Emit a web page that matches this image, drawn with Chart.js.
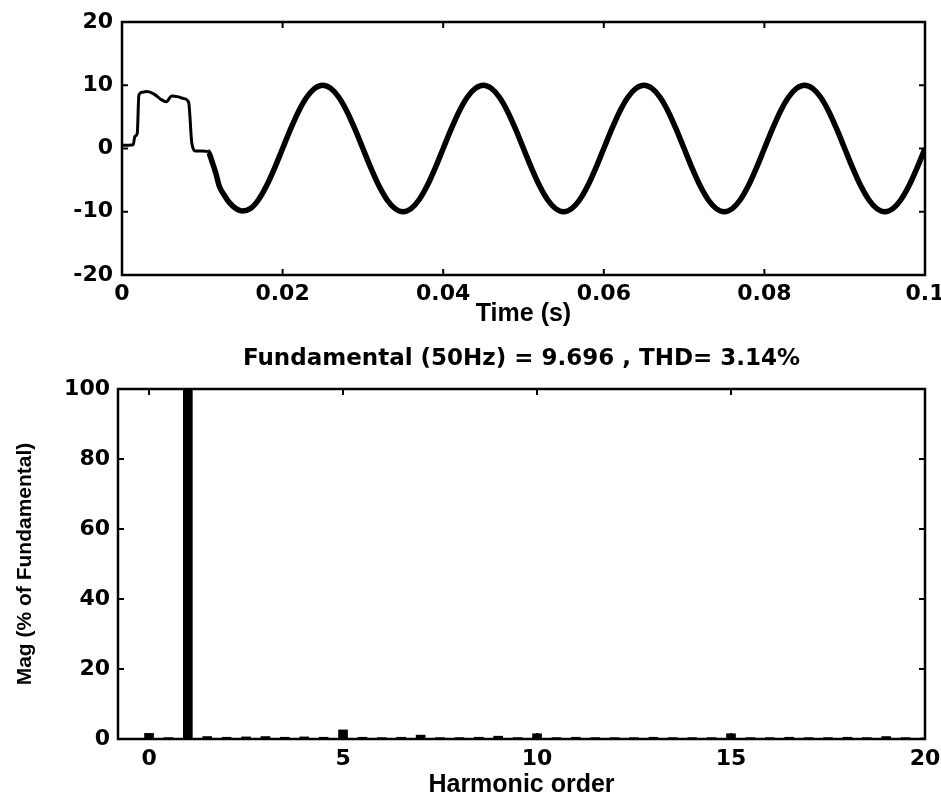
<!DOCTYPE html>
<html><head><meta charset="utf-8">
<script src="https://cdn.jsdelivr.net/npm/chart.js@4.4.1/dist/chart.umd.min.js"></script>
<style>
html,body{margin:0;padding:0;background:#fff;}
#wrap{position:relative;width:941px;height:800px;background:#fff;}
.box{position:absolute;left:0;width:941px;}
</style></head><body>
<div id="wrap">
<div class="box" style="top:0;height:330px"><canvas id="c1" width="941" height="330"></canvas></div>
<div class="box" style="top:330px;height:470px"><canvas id="c2" width="941" height="470"></canvas></div>
</div>
<script>
// ---- Top plot: current waveform ----
const timeS = [0, 0.0014, 0.0016, 0.0019, 0.0021, 0.0025, 0.0031, 0.0040, 0.0048, 0.0055, 0.0062, 0.0069, 0.0077, 0.0083, 0.0087, 0.0092, 0.0100, 0.0107, 0.0113, 0.0117, 0.0121, 0.0128, 0.0134, 0.0142, 0.0150,
 0.016, 0.017, 0.018, 0.019, 0.020, 0.021, 0.022, 0.023, 0.024, 0.025, 0.026, 0.027, 0.028, 0.029, 0.030,
 0.031, 0.032, 0.033, 0.034, 0.035, 0.036, 0.037, 0.038, 0.039, 0.040, 0.041, 0.042, 0.043, 0.044, 0.045,
 0.046, 0.047, 0.048, 0.049, 0.050, 0.051, 0.052, 0.053, 0.054, 0.055, 0.056, 0.057, 0.058, 0.059, 0.060,
 0.061, 0.062, 0.063, 0.064, 0.065, 0.066, 0.067, 0.068, 0.069, 0.070, 0.071, 0.072, 0.073, 0.074, 0.075,
 0.076, 0.077, 0.078, 0.079, 0.080, 0.081, 0.082, 0.083, 0.084, 0.085, 0.086, 0.087, 0.088, 0.089, 0.090,
 0.091, 0.092, 0.093, 0.094, 0.095, 0.096, 0.097, 0.098, 0.099, 0.100];
const currentA = [0.5, 0.6, 1.9, 2.4, 8.4, 8.9, 9.0, 8.6, 7.8, 7.4, 8.3, 8.2, 7.9, 7.3, 0.8, -0.4, -0.4, -0.5, -2.4, -4.0, -5.9, -7.5, -8.6, -9.5, -9.9,
 -9.5, -8.1, -5.9, -3.1, 0.0, 3.1, 5.9, 8.1, 9.5, 10.0, 9.5, 8.1, 5.9, 3.1, 0.0,
 -3.1, -5.9, -8.1, -9.5, -10.0, -9.5, -8.1, -5.9, -3.1, 0.0, 3.1, 5.9, 8.1, 9.5, 10.0,
 9.5, 8.1, 5.9, 3.1, 0.0, -3.1, -5.9, -8.1, -9.5, -10.0, -9.5, -8.1, -5.9, -3.1, 0.0,
 3.1, 5.9, 8.1, 9.5, 10.0, 9.5, 8.1, 5.9, 3.1, 0.0, -3.1, -5.9, -8.1, -9.5, -10.0,
 -9.5, -8.1, -5.9, -3.1, 0.0, 3.1, 5.9, 8.1, 9.5, 10.0, 9.5, 8.1, 5.9, 3.1, 0.0,
 -3.1, -5.9, -8.1, -9.5, -10.0, -9.5, -8.1, -5.9, -3.1, 0.0];
const timeTicks = [0, 0.02, 0.04, 0.06, 0.08, 0.1];
const currentTicks = [-20, -10, 0, 10, 20];
const timeLabel = 'Time (s)';

// ---- Bottom plot: harmonic spectrum ----
const harmonicOrder = [0, 0.5, 1, 1.5, 2, 2.5, 3, 3.5, 4, 4.5, 5, 5.5, 6, 6.5, 7, 7.5, 8, 8.5, 9, 9.5, 10,
 10.5, 11, 11.5, 12, 12.5, 13, 13.5, 14, 14.5, 15, 15.5, 16, 16.5, 17, 17.5, 18, 18.5, 19, 19.5, 20];
const magPercent = [1.6, 0.4, 100, 0.7, 0.5, 0.6, 0.7, 0.5, 0.6, 0.5, 2.6, 0.5, 0.4, 0.5, 1.1, 0.4, 0.4, 0.5, 0.8, 0.4, 1.5,
 0.4, 0.5, 0.4, 0.4, 0.4, 0.5, 0.4, 0.4, 0.4, 1.5, 0.4, 0.4, 0.5, 0.4, 0.4, 0.5, 0.4, 0.7, 0.4, 0.3];
const harmonicTicks = [0, 5, 10, 15, 20];
const magTicks = [0, 20, 40, 60, 80, 100];
const spectrumTitle = 'Fundamental (50Hz) = 9.696 , THD= 3.14%';
const harmonicLabel = 'Harmonic order';
const magLabel = 'Mag (% of Fundamental)';

const tickFont = {family: "'DejaVu Sans', sans-serif", weight: 'bold', size: 22, lineHeight: 1.2};
const labelFont = {family: "'Liberation Sans', Arial, sans-serif", weight: 'bold', size: 25, lineHeight: 1.2};

function fixedTicks(arr){ return s => { s.ticks = arr.map(v => ({value: v})); }; }

const framePlugin = {
  id: 'frame',
  afterDatasetsDraw(chart){
    const {ctx, chartArea: a, scales} = chart;
    ctx.save();
    ctx.strokeStyle = '#000';
    ctx.lineWidth = 2.5;
    ctx.strokeRect(a.left, a.top, a.right - a.left, a.bottom - a.top);
    const L = 6;
    ctx.lineWidth = 2;
    ctx.beginPath();
    scales.x.ticks.forEach(t => {
      const p = scales.x.getPixelForValue(t.value);
      ctx.moveTo(p, a.bottom); ctx.lineTo(p, a.bottom - L);
      ctx.moveTo(p, a.top); ctx.lineTo(p, a.top + L);
    });
    scales.y.ticks.forEach(t => {
      const p = scales.y.getPixelForValue(t.value);
      ctx.moveTo(a.left, p); ctx.lineTo(a.left + L, p);
      ctx.moveTo(a.right, p); ctx.lineTo(a.right - L, p);
    });
    ctx.stroke();
    ctx.restore();
  }
};

Chart.defaults.color = '#000';
Chart.defaults.animation = false;

new Chart(document.getElementById('c1'), {
  type: 'line',
  data: {
    datasets: [{
      data: timeS.map((t, i) => ({x: t, y: currentA[i]})),
      borderColor: '#000',
      borderWidth: 5.5,
      pointRadius: 0,
      cubicInterpolationMode: 'monotone',
      segment: { borderWidth: c => c.p0.parsed.x < 0.0107 ? 3 : 5.5 }
    }]
  },
  options: {
    responsive: false,
    animation: false,
    layout: {padding: {top: 22, right: 16, left: 0, bottom: 0}},
    plugins: {legend: {display: false}, tooltip: {enabled: false}},
    scales: {
      x: {
        type: 'linear', min: 0, max: 0.1,
        afterBuildTicks: fixedTicks(timeTicks),
        afterFit: s => { s.height = 55; s.paddingLeft = 0; s.paddingRight = 0; },
        grid: {display: false, drawTicks: false},
        border: {display: false},
        ticks: {font: tickFont, padding: 6, maxRotation: 0, autoSkip: false, callback: v => String(v)},
        title: {display: true, text: timeLabel, font: labelFont, padding: {top: 0, bottom: 1}}
      },
      y: {
        type: 'linear', min: -20, max: 20,
        afterBuildTicks: fixedTicks(currentTicks),
        afterFit: s => { s.width = 122; s.paddingTop = 0; s.paddingBottom = 0; },
        grid: {display: false, drawTicks: false},
        border: {display: false},
        ticks: {font: tickFont, padding: 9, autoSkip: false, callback: v => String(v)}
      }
    }
  },
  plugins: [framePlugin]
});

new Chart(document.getElementById('c2'), {
  type: 'bar',
  data: {
    datasets: [{
      data: harmonicOrder.map((h, i) => ({x: h, y: magPercent[i]})),
      backgroundColor: '#000',
      borderWidth: 0,
      barThickness: 9
    }]
  },
  options: {
    responsive: false,
    animation: false,
    layout: {padding: {top: 0, right: 16, left: 0, bottom: 0}},
    plugins: {
      legend: {display: false}, tooltip: {enabled: false},
      title: {display: true, text: spectrumTitle, fullSize: false,
        font: {family: "'DejaVu Sans', sans-serif", weight: 'bold', size: 23, lineHeight: 1.2},
        color: '#000', padding: {top: 15.7, bottom: 15.7}}
    },
    scales: {
      x: {
        type: 'linear', min: -0.8, max: 20, offset: false,
        afterBuildTicks: fixedTicks(harmonicTicks),
        afterFit: s => { s.height = 61; s.paddingLeft = 0; s.paddingRight = 0; },
        grid: {display: false, drawTicks: false},
        border: {display: false},
        ticks: {font: tickFont, padding: 7, maxRotation: 0, autoSkip: false, callback: v => String(v)},
        title: {display: true, text: harmonicLabel, font: labelFont, padding: {top: 0, bottom: 0}}
      },
      y: {
        type: 'linear', min: 0, max: 100,
        afterBuildTicks: fixedTicks(magTicks),
        afterFit: s => { s.width = 118; s.paddingTop = 0; s.paddingBottom = 0; },
        grid: {display: false, drawTicks: false},
        border: {display: false},
        ticks: {font: tickFont, padding: 8, autoSkip: false, callback: v => String(v)},
        title: {display: true, text: magLabel,
          font: {family: "'Liberation Sans', Arial, sans-serif", weight: 'bold', size: 21, lineHeight: 1.2},
          padding: {top: 13, bottom: 0}}
      }
    }
  },
  plugins: [framePlugin]
});
</script>
</body></html>
